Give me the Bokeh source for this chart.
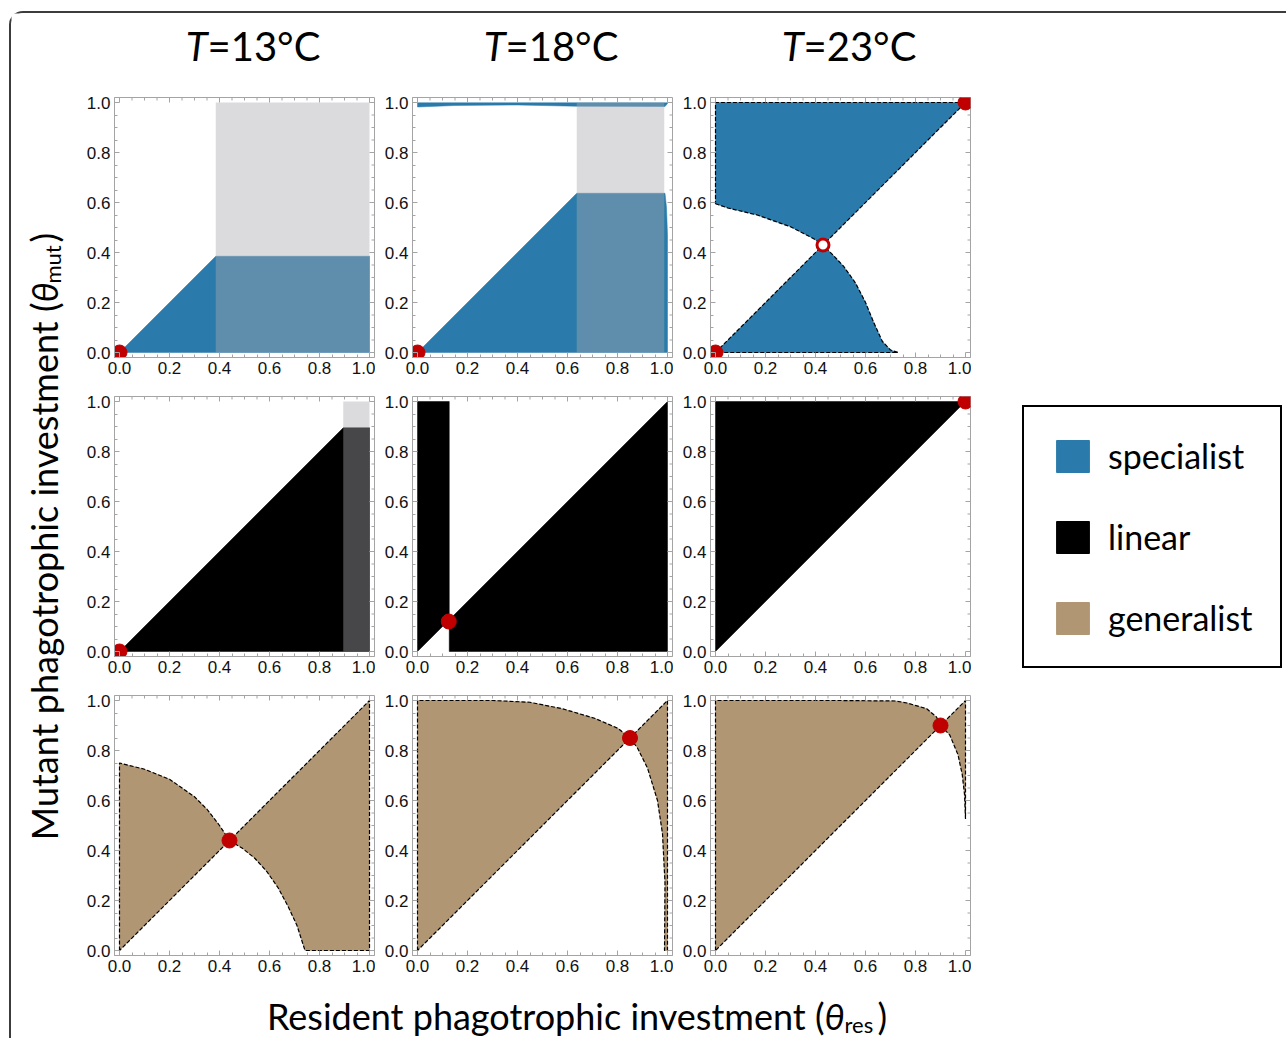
import math
from bokeh.plotting import figure
from bokeh.layouts import row, column
from bokeh.models import (LinearAxis, FixedTicker, PrintfTickFormatter, Range1d,
                          Legend, LegendItem)
from bokeh.core.properties import value
from bokeh.embed import file_html
from bokeh.resources import INLINE

# ---------------------------------------------------------------- data
temperatures = ["13", "18", "23"]
strategies = ["specialist", "linear", "generalist"]
strategy_colors = ["#2a7bab", "#000000", "#b09673"]
tick_values = [0.0, 0.2, 0.4, 0.6, 0.8, 1.0]
minor_tick_values = [0.05, 0.1, 0.15, 0.25, 0.3, 0.35, 0.45, 0.5, 0.55,
                     0.65, 0.7, 0.75, 0.85, 0.9, 0.95]

# specialist, T=13
spec13_x = [0.0, 0.385, 1.0, 1.0]
spec13_y = [0.0, 0.385, 0.385, 0.0]
spec13_shade = [0.385, 1.0]
spec13_dot_x = [0.0]
spec13_dot_y = [0.0]

# specialist, T=18
spec18_low_x = [0.0, 0.637, 0.99, 0.996, 1.0, 1.0]
spec18_low_y = [0.0, 0.637, 0.637, 0.58, 0.47, 0.0]
spec18_band_x = [0.0, 0.15, 0.4, 0.637, 0.99, 1.0, 1.0, 0.0]
spec18_band_y = [0.982, 0.988, 0.99, 0.985, 0.984, 0.996, 0.999, 0.999]
spec18_shade = [0.637, 0.987]
spec18_dot_x = [0.0]
spec18_dot_y = [0.0]

# specialist, T=23
spec23_up_x = [0.0, 0.05, 0.167, 0.3, 0.393, 0.43]
spec23_up_y = [0.595, 0.578, 0.55, 0.503, 0.455, 0.43]
spec23_low_x = [0.43, 0.47, 0.513, 0.56, 0.6, 0.633, 0.667, 0.7, 0.73]
spec23_low_y = [0.43, 0.39, 0.344, 0.278, 0.2, 0.12, 0.045, 0.01, 0.0]
spec23_dot_x = [0.0, 1.0]
spec23_dot_y = [0.0, 1.0]
spec23_open_x = [0.43]
spec23_open_y = [0.43]

# linear, T=13
lin13_x = [0.0, 0.895, 1.0, 1.0]
lin13_y = [0.0, 0.895, 0.895, 0.0]
lin13_shade = [0.895, 1.0]
lin13_dot_x = [0.0]
lin13_dot_y = [0.0]

# linear, T=18
lin18_a_x = [0.0, 0.0, 0.127, 0.127]
lin18_a_y = [0.0, 1.0, 1.0, 0.127]
lin18_b_x = [0.127, 0.127, 1.0, 1.0]
lin18_b_y = [0.0, 0.127, 1.0, 0.0]
lin18_dot_x = [0.125]
lin18_dot_y = [0.12]

# linear, T=23
lin23_x = [0.0, 0.0, 1.0]
lin23_y = [0.0, 1.0, 1.0]
lin23_dot_x = [1.0]
lin23_dot_y = [1.0]

# generalist, T=13
gen13_up_x = [0.0, 0.1, 0.2, 0.3, 0.35, 0.4, 0.44]
gen13_up_y = [0.75, 0.725, 0.685, 0.615, 0.565, 0.5, 0.44]
gen13_low_x = [0.44, 0.49, 0.54, 0.59, 0.635, 0.675, 0.71, 0.742]
gen13_low_y = [0.44, 0.41, 0.37, 0.315, 0.25, 0.175, 0.1, 0.0]
gen13_dot_x = [0.44]
gen13_dot_y = [0.44]

# generalist, T=18
gen18_up_x = [0.0, 0.3, 0.449, 0.58, 0.711, 0.803, 0.85]
gen18_up_y = [1.0, 1.0, 0.993, 0.967, 0.928, 0.888, 0.85]
gen18_low_x = [0.85, 0.88, 0.92, 0.96, 0.98, 0.99, 0.988]
gen18_low_y = [0.85, 0.81, 0.73, 0.6, 0.467, 0.27, 0.0]
gen18_dot_x = [0.85]
gen18_dot_y = [0.85]

# generalist, T=23
gen23_up_x = [0.0, 0.5, 0.72, 0.766, 0.845, 0.884, 0.9]
gen23_up_y = [1.0, 1.0, 0.998, 0.99, 0.967, 0.934, 0.9]
gen23_low_x = [0.9, 0.937, 0.97, 0.987, 0.996, 1.0]
gen23_low_y = [0.9, 0.862, 0.783, 0.704, 0.625, 0.526]
gen23_dot_x = [0.9]
gen23_dot_y = [0.9]

# ------------------------------------------------ panel descriptions
panels = [
    # row 0: specialist
    [dict(regions=[(spec13_x, spec13_y)], shade=spec13_shade, outline=False,
          dots=(spec13_dot_x, spec13_dot_y), opens=None),
     dict(regions=[(spec18_low_x, spec18_low_y), (spec18_band_x, spec18_band_y)],
          shade=spec18_shade, outline=False,
          dots=(spec18_dot_x, spec18_dot_y), opens=None),
     dict(regions=[(spec23_up_x + [1.0, 0.0], spec23_up_y + [1.0, 1.0]),
                   ([0.0] + spec23_low_x, [0.0] + spec23_low_y)],
          shade=None, outline=True,
          dots=(spec23_dot_x, spec23_dot_y), opens=(spec23_open_x, spec23_open_y))],
    # row 1: linear
    [dict(regions=[(lin13_x, lin13_y)], shade=lin13_shade, outline=False,
          dots=(lin13_dot_x, lin13_dot_y), opens=None),
     dict(regions=[(lin18_a_x, lin18_a_y), (lin18_b_x, lin18_b_y)], shade=None,
          outline=False, dots=(lin18_dot_x, lin18_dot_y), opens=None),
     dict(regions=[(lin23_x, lin23_y)], shade=None, outline=False,
          dots=(lin23_dot_x, lin23_dot_y), opens=None)],
    # row 2: generalist
    [dict(regions=[([0.0] + gen13_up_x, [0.0] + gen13_up_y),
                   (gen13_low_x + [1.0, 1.0], gen13_low_y + [0.0, 1.0])],
          shade=None, outline=True, dots=(gen13_dot_x, gen13_dot_y), opens=None),
     dict(regions=[([0.0] + gen18_up_x, [0.0] + gen18_up_y),
                   (gen18_low_x + [1.0, 1.0], gen18_low_y + [0.0, 1.0])],
          shade=None, outline=True, dots=(gen18_dot_x, gen18_dot_y), opens=None),
     dict(regions=[([0.0] + gen23_up_x, [0.0] + gen23_up_y),
                   (gen23_low_x + [1.0], gen23_low_y + [1.0])],
          shade=None, outline=True, dots=(gen23_dot_x, gen23_dot_y), opens=None)],
]

# ------------------------------------------------------------ styling
RED = "#c00000"
FRAME = "#a4a4a4"
TICK_FONT = "Liberation Sans"
LABEL_FONT = "Lato"
LO, HI = -0.02, 1.02
FRAME_W = 260
BL, BR, BT, BB = 37, 1, 2, 37
PANEL_W = BL + FRAME_W + BR   # 298
PANEL_H = BT + FRAME_W + BB   # 299
MARGIN_L, MARGIN_T, BORDER = 9, 11, 2
YLAB_W = 66
TITLE_H = 82
XLAB_H = 46
TOTAL_W = 1287 - MARGIN_L - BORDER - 1
LEG_W = TOTAL_W - YLAB_W - 3 * PANEL_W
GRID_H = 3 * PANEL_H


def add_axis(p, loc):
    ax = LinearAxis(ticker=FixedTicker(ticks=tick_values, minor_ticks=minor_tick_values),
                    formatter=PrintfTickFormatter(format="%.1f"))
    ax.axis_line_color = FRAME
    ax.major_tick_line_color = FRAME
    ax.minor_tick_line_color = FRAME
    ax.major_tick_in = 5
    ax.major_tick_out = 0
    ax.minor_tick_in = 3
    ax.minor_tick_out = 0
    ax.major_label_text_font = TICK_FONT
    ax.major_label_text_font_size = "17px"
    ax.major_label_text_color = "#111111"
    ax.major_label_standoff = 4
    p.add_layout(ax, loc)


def add_mirror_ticks(p):
    # inward tick marks on the top and right frame edges (half clipped by the frame)
    n, m = len(tick_values), len(minor_tick_values)
    p.scatter(tick_values, [HI] * n, marker="dash", angle=math.pi / 2, size=10,
              line_color=FRAME, line_width=1)
    p.scatter(minor_tick_values, [HI] * m, marker="dash", angle=math.pi / 2, size=6,
              line_color=FRAME, line_width=1)
    p.scatter([HI] * n, tick_values, marker="dash", size=10,
              line_color=FRAME, line_width=1)
    p.scatter([HI] * m, minor_tick_values, marker="dash", size=6,
              line_color=FRAME, line_width=1)


def make_panel(spec, color):
    p = figure(frame_width=FRAME_W, frame_height=FRAME_W,
               x_range=Range1d(LO, HI), y_range=Range1d(LO, HI),
               x_axis_type=None, y_axis_type=None,
               min_border_left=BL, min_border_right=BR,
               min_border_top=BT, min_border_bottom=BB,
               output_backend="svg", toolbar_location=None,
               background_fill_color="white", border_fill_color="white",
               outline_line_color=FRAME)
    for xs, ys in spec["regions"]:
        p.patch(xs, ys, fill_color=color, line_color=color, line_width=0.5)
    if spec["shade"] is not None:
        lo, hi = spec["shade"]
        p.quad(left=[lo], right=[hi], bottom=[0.0], top=[1.0],
               fill_color="#a9a9b1", fill_alpha=0.42, line_alpha=0)
    if spec["outline"]:
        for xs, ys in spec["regions"]:
            p.line(list(xs) + [xs[0]], list(ys) + [ys[0]], line_color="black",
                   line_width=1.2, line_dash="4 2")
    add_mirror_ticks(p)
    dx, dy = spec["dots"]
    p.scatter(dx, dy, size=15, fill_color=RED, line_color=RED)
    if spec["opens"] is not None:
        ox, oy = spec["opens"]
        p.scatter(ox, oy, size=12, fill_color="white", line_color=RED, line_width=3)
    add_axis(p, "below")
    add_axis(p, "left")
    return p


def blank(w, h, xr, yr):
    f = figure(width=w, height=h, x_range=Range1d(*xr), y_range=Range1d(*yr),
               x_axis_type=None, y_axis_type=None, min_border=0,
               output_backend="svg", toolbar_location=None,
               outline_line_color=None, background_fill_color="white",
               border_fill_color="white")
    f.grid.visible = False
    return f


grid_rows = []
for r in range(3):
    grid_rows.append(row([make_panel(panels[r][c], strategy_colors[r]) for c in range(3)]))
grid = column(grid_rows)

# ---- titles
title_fig = blank(TOTAL_W, TITLE_H, (0, TOTAL_W), (0, TITLE_H))
split_x = [YLAB_W + BL + 93 + c * PANEL_W for c in range(3)]
title_y = TITLE_H - 32
title_fig.text(x=split_x, y=[title_y] * 3, text=["T"] * 3,
               text_font=value(LABEL_FONT), text_font_style="italic",
               text_font_size="40px", text_align="right", text_baseline="middle")
title_fig.text(x=split_x, y=[title_y] * 3, text=["=%s°C" % t for t in temperatures],
               text_font=value(LABEL_FONT), text_font_size="40px",
               text_align="left", text_baseline="middle")

# ---- y label (rotated)
ylab_fig = blank(YLAB_W, GRID_H, (0, YLAB_W), (0, GRID_H))
yl_x = 32
ylab_fig.text(x=[yl_x], y=[GRID_H - 207], text=["Mutant phagotrophic investment ("],
              angle=math.pi / 2, text_font=value(LABEL_FONT), text_font_size="36px",
              text_align="right", text_baseline="middle")
ylab_fig.text(x=[yl_x], y=[GRID_H - 207], text=["θ"], angle=math.pi / 2,
              text_font=value(LABEL_FONT), text_font_style="italic",
              text_font_size="36px", text_align="left", text_baseline="middle")
ylab_fig.text(x=[yl_x + 9], y=[GRID_H - 188], text=["mut"], angle=math.pi / 2,
              text_font=value(LABEL_FONT), text_font_size="22px",
              text_align="left", text_baseline="middle")
ylab_fig.text(x=[yl_x], y=[GRID_H - 147], text=[")"], angle=math.pi / 2,
              text_font=value(LABEL_FONT), text_font_size="36px",
              text_align="left", text_baseline="middle")

# ---- x label
xlab_fig = blank(TOTAL_W, XLAB_H, (0, TOTAL_W), (0, XLAB_H))
xm = 23
xlab_fig.text(x=[813], y=[xm], text=["Resident phagotrophic investment ("],
              text_font=value(LABEL_FONT), text_font_size="36px",
              text_align="right", text_baseline="middle")
xlab_fig.text(x=[813], y=[xm], text=["θ"], text_font=value(LABEL_FONT),
              text_font_style="italic", text_font_size="36px",
              text_align="left", text_baseline="middle")
xlab_fig.text(x=[833], y=[xm - 9], text=["res"], text_font=value(LABEL_FONT),
              text_font_size="22px", text_align="left", text_baseline="middle")
xlab_fig.text(x=[866], y=[xm], text=[")"], text_font=value(LABEL_FONT),
              text_font_size="36px", text_align="left", text_baseline="middle")

# ---- legend
leg_fig = blank(LEG_W, GRID_H, (0, 1), (0, 1))
items = []
for name, col in zip(strategies, strategy_colors):
    rr = leg_fig.rect(x=[5], y=[5], width=1, height=1, fill_color=col, line_color=col)
    items.append(LegendItem(label=value(name), renderers=[rr]))
legend = Legend(items=items, location=(51, 324), orientation="vertical",
                glyph_width=41, glyph_height=40, label_height=40, spacing=40,
                padding=28, margin=0, label_standoff=15,
                label_text_font=LABEL_FONT, label_text_font_size="34px",
                label_text_color="black", label_text_baseline="middle",
                border_line_color="black", border_line_width=2, border_line_alpha=1.0,
                background_fill_color="white", background_fill_alpha=1.0)
leg_fig.add_layout(legend, "center")

layout = column(
    title_fig,
    row(ylab_fig, grid, leg_fig),
    xlab_fig,
    margin=(MARGIN_T, 0, 0, MARGIN_L),
    styles={"border-top": "%dpx solid #3c3c3c" % BORDER,
            "border-left": "%dpx solid #3c3c3c" % BORDER,
            "border-top-left-radius": "14px"},
)

open("out.html", "w").write(file_html(layout, INLINE))
